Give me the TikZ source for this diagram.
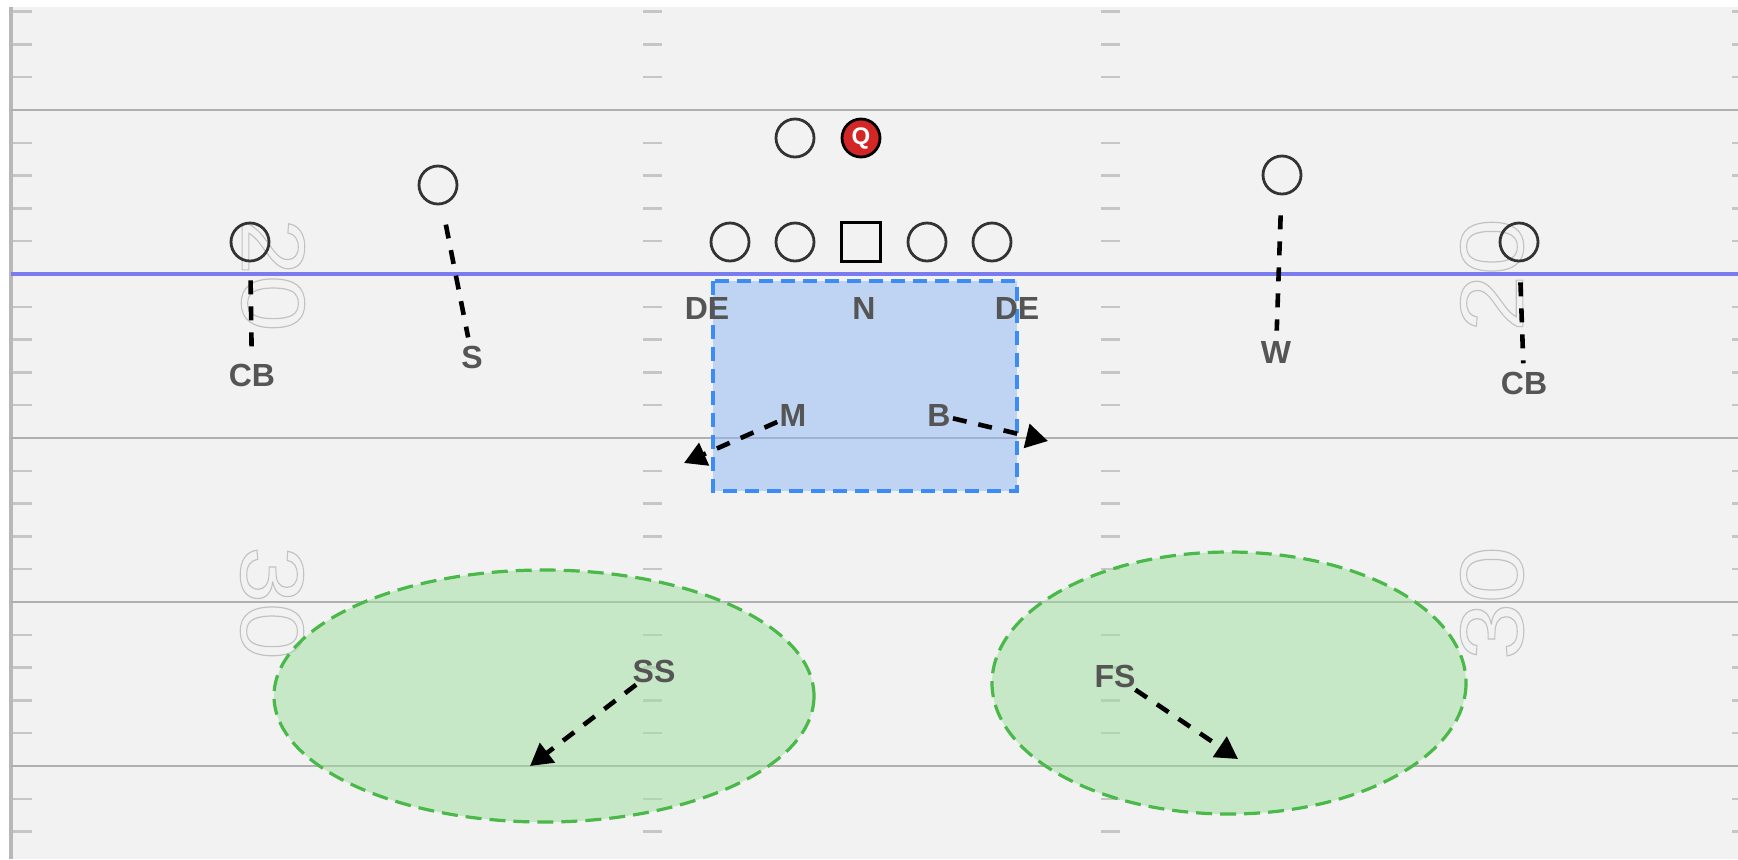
\documentclass[tikz,border=0pt]{standalone}
\usepackage{fontspec}
\setmainfont{Liberation Sans}
\usetikzlibrary{arrows.meta}

\definecolor{turf}{HTML}{F2F2F2}
\definecolor{yardgray}{HTML}{B0B0B0}
\definecolor{hashgray}{HTML}{C6C6C6}
\definecolor{losblue}{HTML}{7B7BF0}
\definecolor{boxblue}{HTML}{8EB8F4}
\definecolor{boxedge}{HTML}{3D8CF5}
\definecolor{zonegreen}{HTML}{9EE09E}
\definecolor{zoneedge}{HTML}{4AB94A}
\definecolor{labelgray}{HTML}{555555}
\definecolor{qbred}{HTML}{D32626}
\definecolor{numgray}{HTML}{C2C2C2}

% hollow yard numbers (stroked glyph outlines)
\newcommand{\yardnum}[1]{\special{pdf:literal direct 1 Tr 0.6 w}#1\special{pdf:literal direct 0 Tr}}

\begin{document}
\begin{tikzpicture}[x=0.5pt,y=-0.5pt,
    player/.style={draw=black!80, line width=1.4pt, circle, minimum size=19pt, inner sep=0pt},
    snapper/.style={draw=black, line width=1.4pt, rectangle, minimum size=19.5pt, inner sep=0pt},
    qback/.style={player, draw=black, fill=qbred, text=white, font=\fontsize{12}{12}\selectfont\bfseries},
    lbl/.style={text=labelgray, inner sep=1pt, font=\fontsize{16}{16}\selectfont\bfseries},
    route/.style={black, line width=2.3pt, dash pattern=on 7pt off 6pt},
    tip/.style={-{Triangle[length=11pt,width=12pt]}},
    zone/.style={draw=zoneedge, line width=1.6pt, dash pattern=on 8pt off 4pt, fill=zonegreen, fill opacity=0.5},
    yardno/.style={inner sep=0pt, text=numgray, xscale=0.88, font=\fontsize{51}{51}\selectfont}]

  % field
  \fill[white] (0,0) rectangle (1738,859);
  \fill[turf] (9,7) rectangle (1738,859);
  \useasboundingbox (0,0) rectangle (1738,859);

  % hash marks, one per yard
  \foreach \k in {0,...,25} {
    \pgfmathsetmacro\hy{11.6+32.8*\k}
    \draw[hashgray, line width=1.2pt] (11,\hy) -- (32,\hy);
    \draw[hashgray, line width=1.2pt] (643,\hy) -- (662,\hy);
    \draw[hashgray, line width=1.2pt] (1101,\hy) -- (1120,\hy);
    \draw[hashgray, line width=1.2pt] (1732,\hy) -- (1738,\hy);
  }
  \draw[yardgray!90, line width=2pt] (11,7) -- (11,859);
  \foreach \y in {110,274,438,602,766}
    \draw[yardgray, line width=1.3pt] (11,\y) -- (1738,\y);

  % yard numbers
  \node[yardno, rotate=-90] (n20L) at (273,275) {\yardnum{20}};
  \node[yardno, rotate=90] (n20R) at (1492,275) {\yardnum{20}};
  \node[yardno, rotate=-90] (n30L) at (272,603) {\yardnum{30}};
  \node[yardno, rotate=90] (n30R) at (1492,603) {\yardnum{30}};

  % line of scrimmage
  \draw[losblue, line width=2pt] (11,274) -- (1738,274);

  % coverage zones
  \draw[draw=boxedge, line width=1.6pt, dash pattern=on 7pt off 4pt, fill=boxblue, fill opacity=0.5] (713,281) rectangle (1017,491);
  \draw[zone] (544,696) ellipse [x radius=270, y radius=126];
  \draw[zone] (1229,683) ellipse [x radius=237, y radius=131];

  % offense
  \node[player] (wrL) at (250,242) {};
  \node[player] (slot) at (438,185) {};
  \node[player] (rb) at (795,138) {};
  \node[qback] (qb) at (861,138) {Q};
  \node[player] (lt) at (730,242) {};
  \node[player] (lg) at (795,242) {};
  \node[snapper] (ctr) at (861,242) {};
  \node[player] (rg) at (927,242) {};
  \node[player] (rt) at (992,242) {};
  \node[player] (wing) at (1282,175) {};
  \node[player] (wrR) at (1519,242) {};

  % defense
  \node[lbl] (cbL) at (252,375) {CB};
  \node[lbl] (ssw) at (472,357) {S};
  \node[lbl] (deL) at (707,308) {DE};
  \node[lbl] (nose) at (864,308) {N};
  \node[lbl] (deR) at (1017,308) {DE};
  \node[lbl] (mike) at (793,415) {M};
  \node[lbl] (buck) at (939,415) {B};
  \node[lbl] (will) at (1276,352) {W};
  \node[lbl] (cbR) at (1524,383) {CB};
  \node[lbl] (ss) at (654,671) {SS};
  \node[lbl] (fs) at (1115,676) {FS};

  \coordinate (mikeEnd) at (684,463);
  \coordinate (buckEnd) at (1048,441);
  \coordinate (ssEnd) at (530,766);
  \coordinate (fsEnd) at (1238,759);

  % man coverage
  \draw[route, shorten <=9pt, shorten >=3pt] (wrL) -- (cbL);
  \draw[route, shorten <=10pt, shorten >=3pt] (slot) -- (ssw);
  \draw[route, shorten <=10pt, shorten >=4pt] (wing) -- (will);
  \draw[route, shorten <=10pt, shorten >=3pt] (wrR) -- (cbR);

  % drops
  \draw[route, tip] (mike) -- (mikeEnd);
  \draw[route, tip] (buck) -- (buckEnd);
  \draw[route, tip] (ss) -- (ssEnd);
  \draw[route, tip] (fs) -- (fsEnd);
\end{tikzpicture}
\end{document}
